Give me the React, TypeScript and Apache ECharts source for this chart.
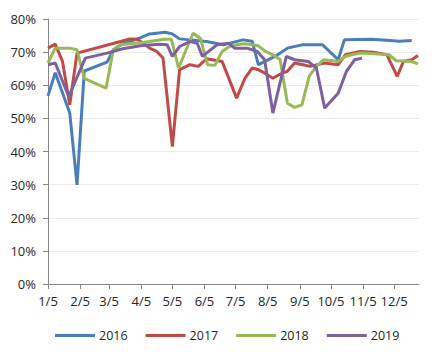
import React, { useEffect, useRef } from "react";
import * as echarts from "echarts";

const tickDays = [0, 31, 59, 90, 120, 151, 181, 212, 243, 273, 304, 334];
const tickLabels = ["1/5", "2/5", "3/5", "4/5", "5/5", "6/5", "7/5", "8/5", "9/5", "10/5", "11/5", "12/5"];
const yearNames = ["2016", "2017", "2018", "2019"];

const days2016 = [0, 7, 21, 28, 35, 57, 63, 72, 89, 98, 113, 120, 127, 137, 153, 169, 188, 197, 203, 219, 231, 245, 265, 280, 286, 312, 330, 339, 351];
const vals2016 = [56.8, 63.8, 51.6, 29.9, 64.3, 67, 70.7, 72.5, 74.3, 75.5, 76, 75.5, 74, 73.7, 73.2, 72.2, 73.7, 73.3, 66.2, 68.7, 71.2, 72.2, 72.2, 67.7, 73.7, 73.9, 73.5, 73.3, 73.5];

const days2017 = [0, 7, 14, 21, 28, 70, 79, 86, 92, 98, 105, 111, 120, 127, 137, 145, 153, 168, 182, 190, 197, 203, 209, 217, 226, 231, 238, 246, 253, 267, 280, 287, 301, 314, 327, 337, 343, 351, 357];
const vals2017 = [71.2, 72.4, 67.2, 54.1, 69.7, 73.2, 74, 73.9, 72.7, 71.2, 70.2, 68.2, 41.5, 64.7, 66.2, 65.7, 68, 67.2, 56.1, 62.1, 65.2, 64.7, 63.7, 62.1, 63.7, 64.2, 66.7, 66.2, 65.7, 66.7, 66.2, 69.2, 70.2, 70, 69.2, 62.7, 67.2, 67.7, 69];

const days2018 = [0, 7, 21, 28, 35, 56, 63, 70, 91, 98, 112, 119, 126, 133, 140, 147, 154, 161, 168, 175, 182, 189, 196, 203, 210, 217, 224, 231, 238, 245, 252, 259, 266, 273, 280, 287, 294, 301, 315, 329, 336, 343, 350, 357];
const vals2018 = [66.8, 71.2, 71.2, 70.7, 62.1, 59.1, 70.7, 72.2, 72.9, 73.2, 73.9, 73.9, 65.2, 70.5, 75.7, 74.2, 66.2, 66, 70.2, 71.7, 72.2, 72.5, 72.3, 71.9, 70.2, 69.2, 67.8, 54.6, 53.3, 54.1, 62.7, 65.7, 67.7, 67.5, 67.2, 68.7, 69.3, 69.7, 69.5, 69.2, 67.4, 67.3, 67.2, 66.5];

const days2019 = [0, 7, 20, 36, 57, 72, 89, 107, 115, 120, 127, 137, 144, 149, 159, 163, 174, 180, 192, 202, 209, 217, 230, 238, 251, 259, 267, 280, 288, 296, 303];
const vals2019 = [66.2, 66.7, 56.6, 68.2, 69.7, 71, 71.9, 72.4, 72.2, 68.7, 71.7, 73.2, 72.7, 68.7, 71.2, 72.2, 72.7, 71.2, 71.2, 70.2, 67.7, 51.6, 68.7, 67.7, 67.2, 65.2, 53.1, 57.6, 64.2, 67.7, 68.2];

const colors = ["#4A7EBB", "#BE4B48", "#98B954", "#7D60A0"];

const allDays = [days2016, days2017, days2018, days2019];
const allVals = [vals2016, vals2017, vals2018, vals2019];

const FONT = "Open Sans";

export default function App() {
  const ref = useRef<HTMLDivElement>(null);
  useEffect(() => {
    if (!ref.current) return;
    const chart = echarts.init(ref.current, null, { renderer: "svg" });
    chart.setOption({
      animation: false,
      backgroundColor: "#ffffff",
      color: colors,
      grid: { left: 48, right: 21, top: 19, bottom: 75, containLabel: false },
      legend: {
        bottom: 12,
        left: 50,
        icon: "rect",
        itemWidth: 40,
        itemHeight: 3,
        itemGap: 18,
        data: yearNames,
        textStyle: { fontFamily: FONT, fontSize: 12.5, color: "#262626", padding: [0, 0, 0, -1] },
      },
      xAxis: {
        type: "value",
        min: 0,
        max: 358,
        splitLine: { show: false },
        axisLine: { show: true, lineStyle: { color: "#868686", width: 1 } },
        axisTick: { show: true, length: 5, customValues: tickDays, lineStyle: { color: "#868686" } },
        axisLabel: {
          customValues: tickDays,
          margin: 10,
          fontFamily: FONT,
          fontSize: 13,
          color: "#262626",
          formatter: (v: number) => {
            const i = tickDays.indexOf(Math.round(v));
            return i >= 0 ? tickLabels[i] : "";
          },
        },
      },
      yAxis: {
        type: "value",
        min: 0,
        max: 80,
        interval: 10,
        axisLine: { show: true, lineStyle: { color: "#868686", width: 1 } },
        axisTick: { show: true, length: 5, lineStyle: { color: "#868686" } },
        splitLine: { show: true, lineStyle: { color: "#EBEBEB", width: 1 } },
        axisLabel: {
          margin: 12,
          fontFamily: FONT,
          fontSize: 13,
          color: "#262626",
          formatter: "{value}%",
        },
      },
      series: yearNames.map((name, i) => ({
        name,
        type: "line",
        showSymbol: false,
        symbol: "none",
        lineStyle: { width: 3, color: colors[i] },
        data: allDays[i].map((d, j) => [d, allVals[i][j]]),
      })),
    });
    return () => chart.dispose();
  }, []);
  return (
    <div
      ref={ref}
      style={{ position: "fixed", left: 0, top: 0, width: 440, height: 359, background: "#fff" }}
    />
  );
}
